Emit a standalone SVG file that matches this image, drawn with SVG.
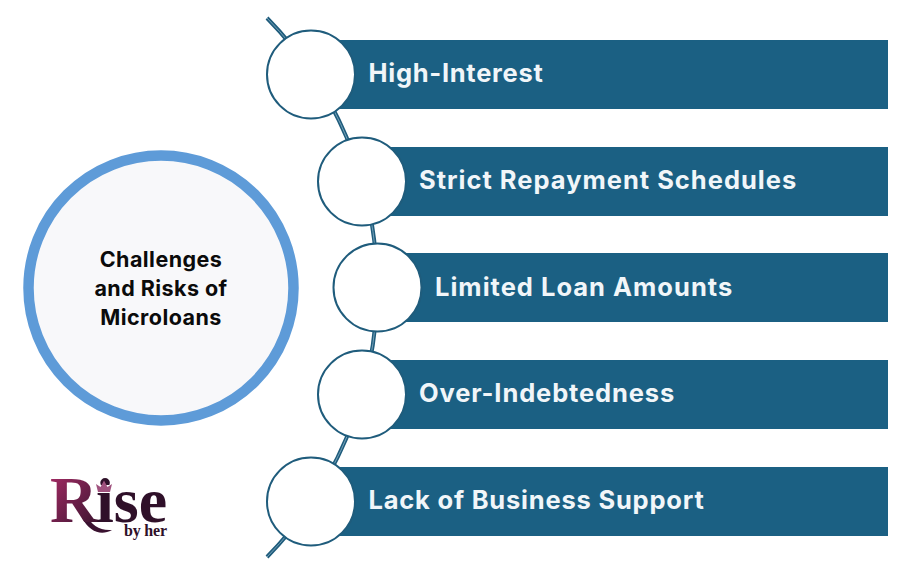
<svg xmlns="http://www.w3.org/2000/svg" width="913" height="579" viewBox="0 0 913 579">
<defs>
<linearGradient id="rg" gradientUnits="userSpaceOnUse" x1="50" y1="478" x2="110" y2="530"><stop offset="0" stop-color="#a02a62"/><stop offset="0.55" stop-color="#5e1c42"/><stop offset="1" stop-color="#2b0f25"/></linearGradient>
</defs>
<style>
.bar{fill:#1b6083}
.dot{fill:#fff;stroke:#1f5c7c;stroke-width:2}
.lbl{font-family:"Inter","Liberation Sans",sans-serif;font-weight:700;font-size:25.5px;fill:#f1f6f9;letter-spacing:.75px}
.ctr{font-family:"Inter","Liberation Sans",sans-serif;font-weight:700;font-size:21.5px;fill:#0b0b0b;text-anchor:middle;letter-spacing:.45px}
.logo{font-family:"Liberation Serif",serif}
</style>
<rect width="913" height="579" fill="#fff"/>
<g id="connectors" fill="none">
<path d="M267 18A385 385 0 0 1 267 557" stroke="#1f5c7c" stroke-width="4"/>
<path d="M267 18A385 385 0 0 1 267 557" stroke="#7fa9bf" stroke-width="0.9"/>
</g>
<g id="center-node">
<circle cx="161" cy="288" r="132.500" fill="#f8f8fa" stroke="#5e9bd8" stroke-width="10.500"/>
<text class="ctr" x="161" y="266.500">Challenges</text>
<text class="ctr" x="161" y="295.500">and Risks of</text>
<text class="ctr" x="161" y="324.500">Microloans</text>
</g>
<g id="node-1"><rect class="bar" x="311" y="40" width="577" height="69"/><circle class="dot" cx="311" cy="74.500" r="44"/><text class="lbl" x="368.500" y="81.500" textLength="175">High-Interest</text></g>
<g id="node-2"><rect class="bar" x="362" y="147" width="526" height="69"/><circle class="dot" cx="362" cy="181.500" r="44"/><text class="lbl" x="419" y="188.500" textLength="378">Strict Repayment Schedules</text></g>
<g id="node-3"><rect class="bar" x="377.500" y="253" width="510.500" height="69"/><circle class="dot" cx="377.500" cy="287.500" r="44"/><text class="lbl" x="435" y="295.500" textLength="298">Limited Loan Amounts</text></g>
<g id="node-4"><rect class="bar" x="362" y="360" width="526" height="69"/><circle class="dot" cx="362" cy="394.500" r="44"/><text class="lbl" x="419" y="401.500" textLength="256">Over-Indebtedness</text></g>
<g id="node-5"><rect class="bar" x="311" y="467" width="577" height="69"/><circle class="dot" cx="311" cy="501.500" r="44"/><text class="lbl" x="368.500" y="508.500" textLength="336">Lack of Business Support</text></g>
<g id="logo">
<path d="M84 512C92 526 100 531 112 530C101 536 90 532 82 518z" fill="#3a1230"/>
<text class="logo" y="522" font-weight="700" fill="url(#rg)"><tspan x="50" font-size="66">R</tspan><tspan x="96" font-size="64" fill="#2f1029">ise</tspan></text>
<rect x="96" y="485" width="17" height="8" fill="#fff"/>
<path d="M98 492l-2-8 4.500 3 3.500-6.500 3.500 6.500 4.500-3-2 8z" fill="#a0527e"/>
<text class="logo" x="124" y="536" font-size="16" font-weight="700" fill="#2f1029" textLength="43">by her</text>
</g>
</svg>
